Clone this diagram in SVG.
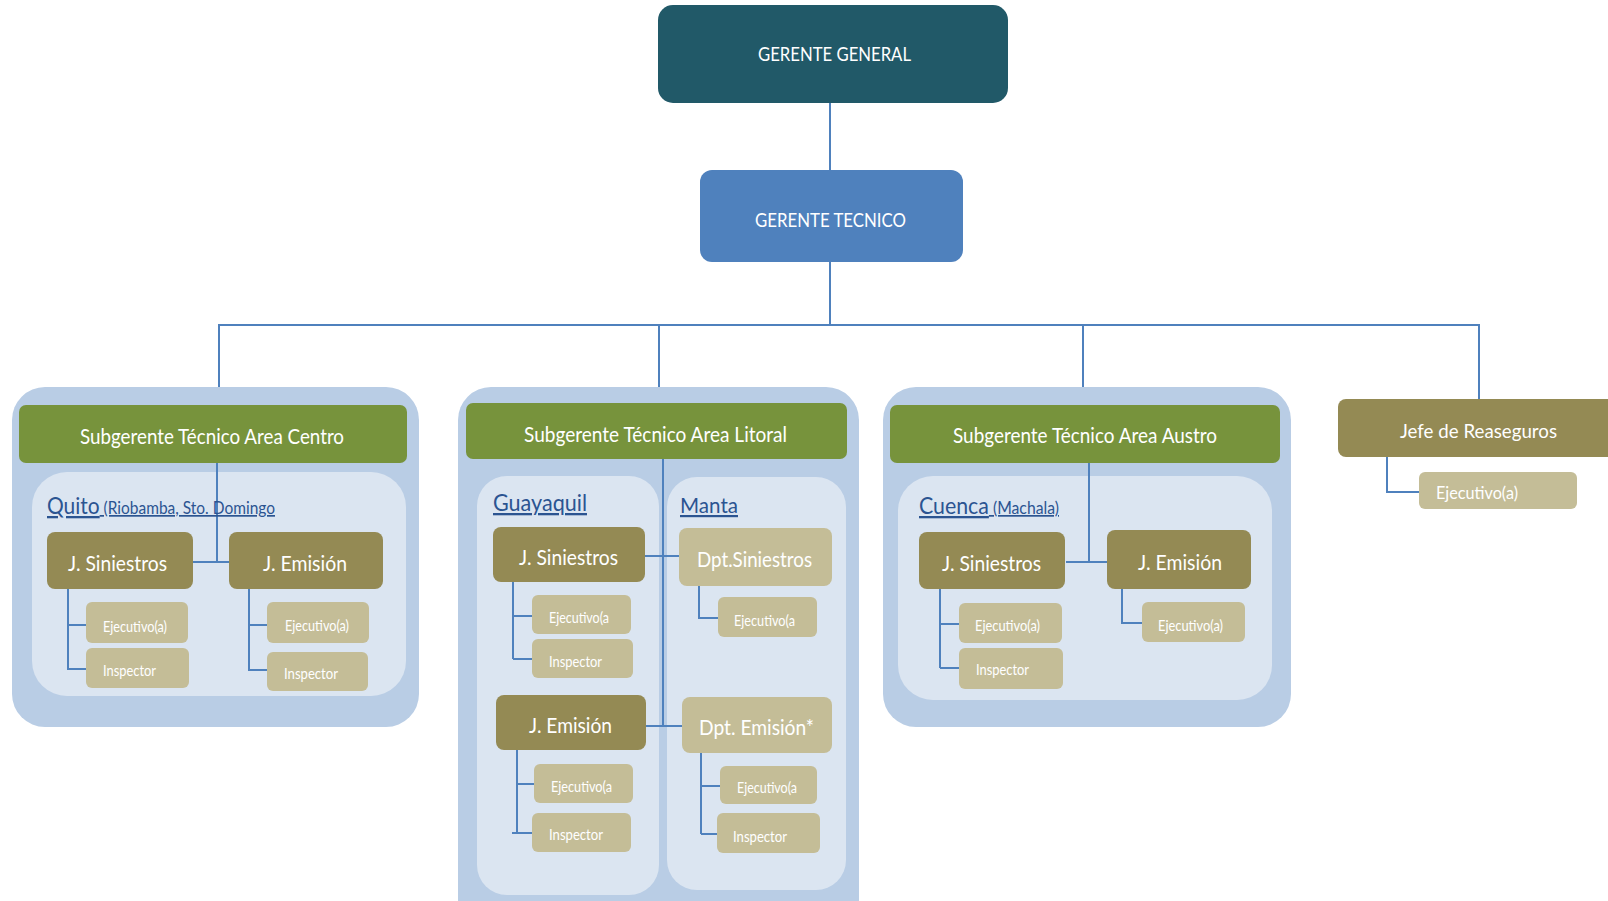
<svg xmlns="http://www.w3.org/2000/svg" width="1608" height="901" viewBox="0 0 1608 901">
<style>
.c{stroke:#4F81BD;stroke-width:2;fill:none}
.outer{fill:#B9CDE5}
.inner{fill:#DBE5F1}
.gg{fill:#215968}
.gt{fill:#4F81BD}
.sub{fill:#77933C}
.jefe{fill:#948A54}
.lite{fill:#C4BD97}
text{font-family:Lato,"Open Sans","Liberation Sans",sans-serif;fill:#FFFFFF}
.loc{fill:#2B5491;text-decoration:underline}
.s15{font-size:15px}
.s21{font-size:21px}
.s22{font-size:22px}
</style>
<rect width="1608" height="901" fill="#FFFFFF"/>

<g id="containers">
  <rect class="outer" x="12" y="387" width="407" height="340" rx="33"/>
  <rect class="inner" x="32" y="472" width="374" height="224" rx="35"/>
  <rect class="outer" x="458" y="387" width="401" height="545" rx="33"/>
  <rect class="inner" x="477" y="476" width="182" height="419" rx="30"/>
  <rect class="inner" x="667" y="477" width="179" height="413" rx="30"/>
  <rect class="outer" x="883" y="387" width="408" height="340" rx="33"/>
  <rect class="inner" x="898" y="476" width="374" height="224" rx="35"/>
</g>

<g id="connectors">
  <path class="c" d="M830 103V170"/>
  <path class="c" d="M830 262V325"/>
  <path class="c" d="M219 387V325H1479V399"/>
  <path class="c" d="M659 325V387"/>
  <path class="c" d="M1083 325V387"/>
  <path class="c" d="M217 463V562M193 562H229"/>
  <path class="c" d="M68 589V670M68 625H88M68 669H86"/>
  <path class="c" d="M249 589V671M249 625H269M249 670H269"/>
  <path class="c" d="M663 459V727M645 556H679M646 726H682"/>
  <path class="c" d="M513 582V659M513 616H534M513 659H532"/>
  <path class="c" d="M699 586V618H719"/>
  <path class="c" d="M517 750V833M517 784H536M512 833H532"/>
  <path class="c" d="M701 753V834M701 786H721M701 834H717"/>
  <path class="c" d="M1089 463V562M1066 562H1107"/>
  <path class="c" d="M940 589V668M940 624H961M940 668H959"/>
  <path class="c" d="M1122 589V623H1142"/>
  <path class="c" d="M1387 457V492H1419"/>
</g>

<g id="gerente-general">
  <rect class="gg" x="658" y="5" width="350" height="98" rx="15"/>
  <text x="758" y="61" font-size="19" textLength="153" lengthAdjust="spacingAndGlyphs">GERENTE GENERAL</text>
</g>
<g id="gerente-tecnico">
  <rect class="gt" x="700" y="170" width="263" height="92" rx="12"/>
  <text x="755" y="227" font-size="20" textLength="151" lengthAdjust="spacingAndGlyphs">GERENTE TECNICO</text>
</g>

<g id="sub-centro">
  <rect class="sub" x="19" y="405" width="388" height="58" rx="7"/>
  <text class="s22" x="80" y="444" textLength="264" lengthAdjust="spacingAndGlyphs">Subgerente Técnico Area Centro</text>
</g>
<g id="loc-quito">
  <text class="loc" x="47" y="514" textLength="228" lengthAdjust="spacingAndGlyphs"><tspan font-size="23">Quito</tspan><tspan font-size="17"> (Riobamba, Sto. Domingo</tspan></text>
</g>
<g id="centro-siniestros">
  <rect class="jefe" x="47" y="532" width="146" height="57" rx="8"/>
  <text class="s21" x="68" y="571" textLength="99" lengthAdjust="spacingAndGlyphs">J. Siniestros</text>
</g>
<g id="centro-emision">
  <rect class="jefe" x="229" y="532" width="154" height="57" rx="8"/>
  <text class="s21" x="263" y="571" textLength="84" lengthAdjust="spacingAndGlyphs">J. Emisión</text>
</g>
<g id="centro-sin-ejecutivo">
  <rect class="lite" x="86" y="602" width="102" height="41" rx="6"/>
  <text class="s15" x="103" y="632" textLength="64" lengthAdjust="spacingAndGlyphs">Ejecutivo(a)</text>
</g>
<g id="centro-sin-inspector">
  <rect class="lite" x="86" y="648" width="103" height="40" rx="6"/>
  <text class="s15" x="103" y="676" textLength="53" lengthAdjust="spacingAndGlyphs">Inspector</text>
</g>
<g id="centro-emi-ejecutivo">
  <rect class="lite" x="267" y="602" width="102" height="41" rx="6"/>
  <text class="s15" x="285" y="631" textLength="64" lengthAdjust="spacingAndGlyphs">Ejecutivo(a)</text>
</g>
<g id="centro-emi-inspector">
  <rect class="lite" x="267" y="652" width="101" height="39" rx="6"/>
  <text class="s15" x="284" y="679" textLength="54" lengthAdjust="spacingAndGlyphs">Inspector</text>
</g>

<g id="sub-litoral">
  <rect class="sub" x="466" y="403" width="381" height="56" rx="7"/>
  <text class="s22" x="524" y="442" textLength="263" lengthAdjust="spacingAndGlyphs">Subgerente Técnico Area Litoral</text>
</g>
<g id="loc-guayaquil">
  <text class="loc" x="493" y="511" font-size="23" textLength="94" lengthAdjust="spacingAndGlyphs">Guayaquil</text>
</g>
<g id="loc-manta">
  <text class="loc" x="680" y="513" font-size="22" textLength="58" lengthAdjust="spacingAndGlyphs">Manta</text>
</g>
<g id="gye-siniestros">
  <rect class="jefe" x="493" y="527" width="152" height="55" rx="8"/>
  <text class="s21" x="519" y="565" textLength="99" lengthAdjust="spacingAndGlyphs">J. Siniestros</text>
</g>
<g id="manta-siniestros">
  <rect class="lite" x="679" y="528" width="153" height="58" rx="8"/>
  <text class="s22" x="697" y="567" textLength="115" lengthAdjust="spacingAndGlyphs">Dpt.Siniestros</text>
</g>
<g id="gye-sin-ejecutivo">
  <rect class="lite" x="532" y="595" width="99" height="39" rx="6"/>
  <text class="s15" x="549" y="623" textLength="60" lengthAdjust="spacingAndGlyphs">Ejecutivo(a</text>
</g>
<g id="gye-sin-inspector">
  <rect class="lite" x="532" y="639" width="101" height="39" rx="6"/>
  <text class="s15" x="549" y="667" textLength="53" lengthAdjust="spacingAndGlyphs">Inspector</text>
</g>
<g id="manta-sin-ejecutivo">
  <rect class="lite" x="718" y="597" width="99" height="40" rx="6"/>
  <text class="s15" x="734" y="626" textLength="61" lengthAdjust="spacingAndGlyphs">Ejecutivo(a</text>
</g>
<g id="gye-emision">
  <rect class="jefe" x="496" y="695" width="150" height="55" rx="8"/>
  <text class="s21" x="529" y="733" textLength="83" lengthAdjust="spacingAndGlyphs">J. Emisión</text>
</g>
<g id="manta-emision">
  <rect class="lite" x="682" y="697" width="150" height="56" rx="8"/>
  <text class="s22" x="699" y="735" textLength="115" lengthAdjust="spacingAndGlyphs">Dpt. Emisión*</text>
</g>
<g id="gye-emi-ejecutivo">
  <rect class="lite" x="534" y="764" width="99" height="39" rx="6"/>
  <text class="s15" x="551" y="792" textLength="61" lengthAdjust="spacingAndGlyphs">Ejecutivo(a</text>
</g>
<g id="gye-emi-inspector">
  <rect class="lite" x="532" y="813" width="99" height="39" rx="6"/>
  <text class="s15" x="549" y="840" textLength="54" lengthAdjust="spacingAndGlyphs">Inspector</text>
</g>
<g id="manta-emi-ejecutivo">
  <rect class="lite" x="720" y="766" width="97" height="38" rx="6"/>
  <text class="s15" x="737" y="793" textLength="60" lengthAdjust="spacingAndGlyphs">Ejecutivo(a</text>
</g>
<g id="manta-emi-inspector">
  <rect class="lite" x="717" y="813" width="103" height="40" rx="6"/>
  <text class="s15" x="733" y="842" textLength="54" lengthAdjust="spacingAndGlyphs">Inspector</text>
</g>

<g id="sub-austro">
  <rect class="sub" x="890" y="405" width="390" height="58" rx="7"/>
  <text class="s22" x="953" y="443" textLength="264" lengthAdjust="spacingAndGlyphs">Subgerente Técnico Area Austro</text>
</g>
<g id="loc-cuenca">
  <text class="loc" x="919" y="514" textLength="140" lengthAdjust="spacingAndGlyphs"><tspan font-size="23">Cuenca</tspan><tspan font-size="17"> (Machala)</tspan></text>
</g>
<g id="austro-siniestros">
  <rect class="jefe" x="919" y="532" width="146" height="57" rx="8"/>
  <text class="s21" x="942" y="571" textLength="99" lengthAdjust="spacingAndGlyphs">J. Siniestros</text>
</g>
<g id="austro-emision">
  <rect class="jefe" x="1107" y="530" width="144" height="59" rx="8"/>
  <text class="s21" x="1138" y="570" textLength="84" lengthAdjust="spacingAndGlyphs">J. Emisión</text>
</g>
<g id="austro-sin-ejecutivo">
  <rect class="lite" x="959" y="603" width="103" height="40" rx="6"/>
  <text class="s15" x="975" y="631" textLength="65" lengthAdjust="spacingAndGlyphs">Ejecutivo(a)</text>
</g>
<g id="austro-sin-inspector">
  <rect class="lite" x="959" y="648" width="104" height="41" rx="6"/>
  <text class="s15" x="976" y="675" textLength="53" lengthAdjust="spacingAndGlyphs">Inspector</text>
</g>
<g id="austro-emi-ejecutivo">
  <rect class="lite" x="1142" y="602" width="103" height="40" rx="6"/>
  <text class="s15" x="1158" y="631" textLength="65" lengthAdjust="spacingAndGlyphs">Ejecutivo(a)</text>
</g>

<g id="jefe-reaseguros">
  <rect class="jefe" x="1338" y="399" width="290" height="58" rx="8"/>
  <text x="1400" y="438" font-size="19" textLength="157" lengthAdjust="spacingAndGlyphs">Jefe de Reaseguros</text>
</g>
<g id="reaseguros-ejecutivo">
  <rect class="lite" x="1419" y="472" width="158" height="37" rx="6"/>
  <text x="1436" y="499" font-size="17" textLength="82" lengthAdjust="spacingAndGlyphs">Ejecutivo(a)</text>
</g>
</svg>
